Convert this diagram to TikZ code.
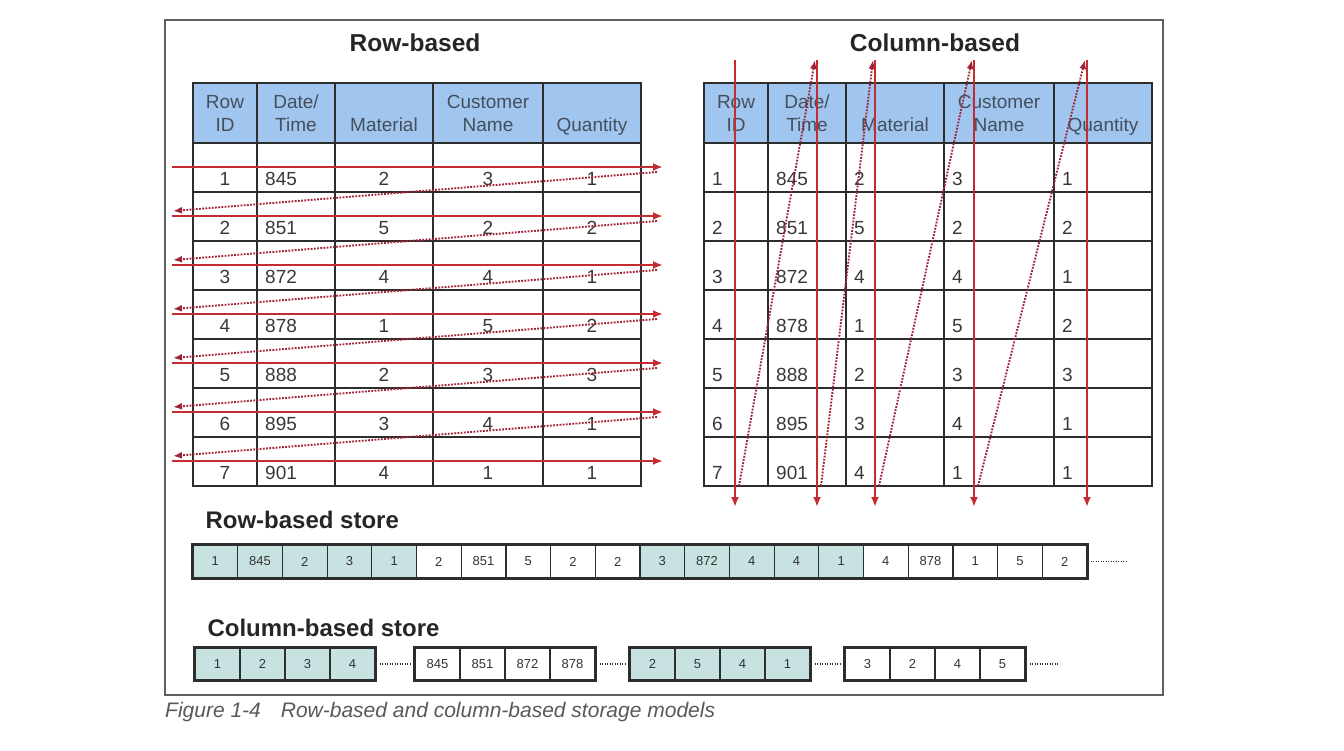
\documentclass[tikz,border=0pt]{standalone}
\usepackage{fontspec}
\setmainfont{Liberation Sans}
\usetikzlibrary{arrows.meta}
\definecolor{headblue}{RGB}{160,198,240}
\definecolor{headink}{RGB}{70,78,92}
\definecolor{gridink}{RGB}{45,45,45}
\definecolor{scanred}{RGB}{195,45,50}
\definecolor{jumpred}{RGB}{160,35,55}
\definecolor{storeteal}{RGB}{200,226,226}
\definecolor{framegray}{RGB}{95,95,95}
\tikzset{
    every node/.style={align=center,},
    modeltitle/.style={font=\bfseries\fontsize{24.5}{28}\selectfont,text=black!85,},
    storetitle/.style={anchor=west,font=\bfseries\fontsize{24}{28}\selectfont,text=black!85,},
    headtext/.style={anchor=south,inner sep=0pt,text depth=0pt,text=headink,font=\fontsize{19}{23}\selectfont,},
    celltext/.style={anchor=base,inner sep=0pt,text=black!78,font=\fontsize{19}{22}\selectfont,},
    tableline/.style={draw=gridink,line width=1.6pt,},
    scanarrow/.style={draw=scanred,line width=2.9pt,-{Latex[length=10pt,width=8pt]},},
    jumparrow/.style={draw=jumpred,line width=1.9pt,dash pattern=on 1.8pt off 1.4pt,-{Latex[length=9pt,width=7pt]},},
    storecell/.style={draw=gridink,line width=1.2pt,minimum height=33pt,inner sep=0pt,text=black!80,font=\fontsize{13}{15}\selectfont,},
    storebox/.style={draw=gridink,line width=3pt,},
    taildots/.style={draw=gridink,line width=1.4pt,dash pattern=on 1.3pt off 1.2pt,},
}

\begin{document}
\begin{tikzpicture}[x=1pt,y=-1pt]
    \useasboundingbox (0,0) rectangle (1344,750);
    \draw[draw=framegray,line width=1.6pt] (165,20) rectangle (1163,695);

    \node[modeltitle] (rowtitle) at (415,43) {Row-based};
    \node[modeltitle] (coltitle) at (935,43) {Column-based};

    % both tables
    \foreach \dx in {0,511} {
        \fill[headblue] (193+\dx,83) rectangle (641+\dx,143);
        \foreach \x in {257,335,433,543}
            \draw[tableline] (\x+\dx,83) -- (\x+\dx,486);
        \foreach \y in {143,192,241,290,339,388,437}
            \draw[tableline] (193+\dx,\y) -- (641+\dx,\y);
        \draw[tableline] (193+\dx,83) rectangle (641+\dx,486);
    }
    \foreach \cx/\txt [count=\c] in {225/{Row\\ID},296/{Date/\\Time},384/Material,488/{Customer\\Name},592/Quantity} {
        \node[headtext] (rh\c) at (\cx,132) {\txt};
        \node[headtext] (ch\c) at (\cx+511,132) {\txt};
    }
    \foreach \id/\dt/\mat/\cus/\qty [count=\r] in {1/845/2/3/1,2/851/5/2/2,3/872/4/4/1,4/878/1/5/2,5/888/2/3/3,6/895/3/4/1,7/901/4/1/1} {
        \pgfmathsetmacro{\by}{136+49*\r}
        \node[celltext] (r\r-1) at (225,\by) {\id};
        \node[celltext,anchor=base west] (r\r-2) at (265,\by) {\dt};
        \node[celltext] (r\r-3) at (384,\by) {\mat};
        \node[celltext] (r\r-4) at (488,\by) {\cus};
        \node[celltext] (r\r-5) at (592,\by) {\qty};
        \node[celltext,anchor=base west] (c\r-1) at (712,\by) {\id};
        \node[celltext,anchor=base west] (c\r-2) at (776,\by) {\dt};
        \node[celltext,anchor=base west] (c\r-3) at (854,\by) {\mat};
        \node[celltext,anchor=base west] (c\r-4) at (952,\by) {\cus};
        \node[celltext,anchor=base west] (c\r-5) at (1062,\by) {\qty};
    }

    % reading order, row by row
    \foreach \i in {1,...,7} {
        \pgfmathsetmacro{\ay}{118+49*\i}
        \coordinate (scanl\i) at (172,\ay);
        \coordinate (scanr\i) at (663,\ay);
        \draw[scanarrow] (scanl\i) -- (scanr\i);
    }
    \foreach \i [evaluate=\i as \j using int(\i+1)] in {1,...,6}
        \draw[jumparrow] ([xshift=-6pt,yshift=-5pt]scanr\i) -- ([xshift=1pt,yshift=5pt]scanl\j);

    % reading order, column by column
    \foreach \x [count=\k] in {735,817,875,974,1087} {
        \coordinate (colt\k) at (\x,60);
        \coordinate (colb\k) at (\x,507);
        \draw[scanarrow] (colt\k) -- (colb\k);
    }
    \foreach \k [evaluate=\k as \p using int(\k-1)] in {2,...,5}
        \draw[jumparrow] ([xshift=4pt,yshift=21pt]colb\p) -- ([xshift=-2pt,yshift=0pt]colt\k);

    % row-based store
    \node[storetitle] (rowstore) at (202,520) {Row-based store};
    \foreach \v/\f [count=\i] in {1/storeteal,845/storeteal,2/storeteal,3/storeteal,1/storeteal,
            2/white,851/white,5/white,2/white,2/white,
            3/storeteal,872/storeteal,4/storeteal,4/storeteal,1/storeteal,
            4/white,878/white,1/white,5/white,2/white} {
        \node[storecell,fill=\f,minimum width=44.7pt] (rs\i) at (193+44.7*\i-22.35,561.5) {\v};
    }
    \draw[storebox] (rs1.north west) rectangle (rs20.south east);
    \coordinate (rstail) at (1127,561.5);
    \draw[taildots] ([xshift=3pt]rs20.east) -- (rstail);

    % column-based store
    \node[storetitle] (colstore) at (204,628) {Column-based store};
    \foreach \gx/\vals/\f [count=\g] in {195/{1,2,3,4}/storeteal,415/{845,851,872,878}/white,630/{2,5,4,1}/storeteal,845/{3,2,4,5}/white} {
        \foreach \v [count=\i] in \vals
            \node[storecell,fill=\f,minimum width=45pt,minimum height=32pt] (cs\g-\i) at (\gx+45*\i-22.5,664) {\v};
        \draw[storebox] (cs\g-1.north west) rectangle (cs\g-4.south east);
    }
    \foreach \g [evaluate=\g as \n using int(\g+1)] in {1,2,3}
        \draw[taildots] ([xshift=4pt]cs\g-4.east) -- ([xshift=-3pt]cs\n-1.west);
    \coordinate (cstail) at (1058,664);
    \draw[taildots] ([xshift=4pt]cs4-4.east) -- (cstail);

    \node[anchor=west,inner sep=0pt,text=black!65,font=\itshape\fontsize{21}{24}\selectfont] (caption) at (165,712) {Figure 1-4\hspace{20pt}Row-based and column-based storage models};
\end{tikzpicture}
\end{document}
